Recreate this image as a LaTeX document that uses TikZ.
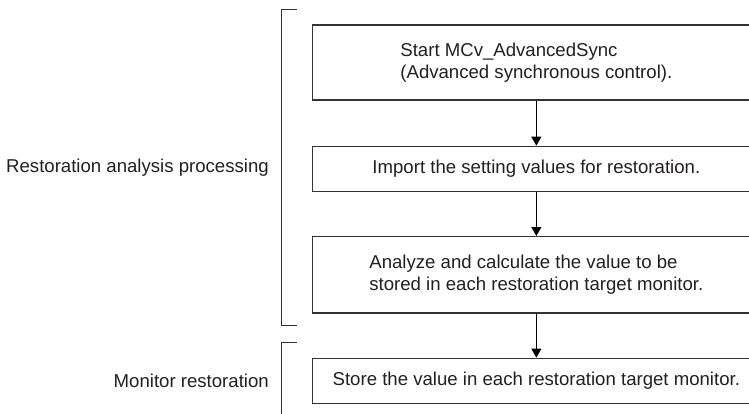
\documentclass[tikz,border=0pt]{standalone}
\usepackage{fontspec}
\setmainfont{Liberation Sans}
\usepackage{xcolor}
\usetikzlibrary{arrows.meta,positioning}
\definecolor{inkgray}{HTML}{333333}
\definecolor{txtgray}{HTML}{231F20}

\begin{document}
\begin{tikzpicture}[x=1pt, y=-1pt,
      font=\fontsize{18.6}{22}\selectfont, text=txtgray,
      stepbox/.style={draw=inkgray, line width=1.3pt, inner sep=0pt,
        minimum width=448pt, anchor=north west, align=left},
      arrow/.style={-{Triangle[length=9pt, width=10pt]}, line width=1pt, draw=black},
      bracket/.style={draw=inkgray, line width=1.3pt},
      phase/.style={anchor=east, inner sep=0pt}]
    \useasboundingbox (0,0) rectangle (749,414);
    % processing steps
    \node[stepbox, minimum height=75pt] (start) at (311.7,24.3)
      {Start MCv\_AdvancedSync\\(Advanced synchronous control).};
    \node[stepbox, minimum height=45.3pt] (import) at (311.7,145.7)
      {Import the setting values for restoration.};
    \node[stepbox, minimum height=76.3pt] (analyze) at (311.7,236)
      {Analyze and calculate the value to be\\stored in each restoration target monitor.};
    \node[stepbox, minimum height=45pt] (store) at (311.7,357.7)
      {Store the value in each restoration target monitor.};
    % flow
    \draw[arrow] (start) -- (import);
    \draw[arrow] (import) -- (analyze);
    \draw[arrow] (analyze) -- (store);
    % phase brackets
    \draw[bracket] (296.7,9.7) -- (281.7,9.7) -- (281.7,325.7) -- (296.7,325.7);
    \draw[bracket] (296.7,342.7) -- (281.7,342.7) -- (281.7,420);
    \node[phase] (analysis) at (269,168) {Restoration analysis processing};
    \node[phase] (monitor) at (269,381) {Monitor restoration};
  \end{tikzpicture}
\end{document}
